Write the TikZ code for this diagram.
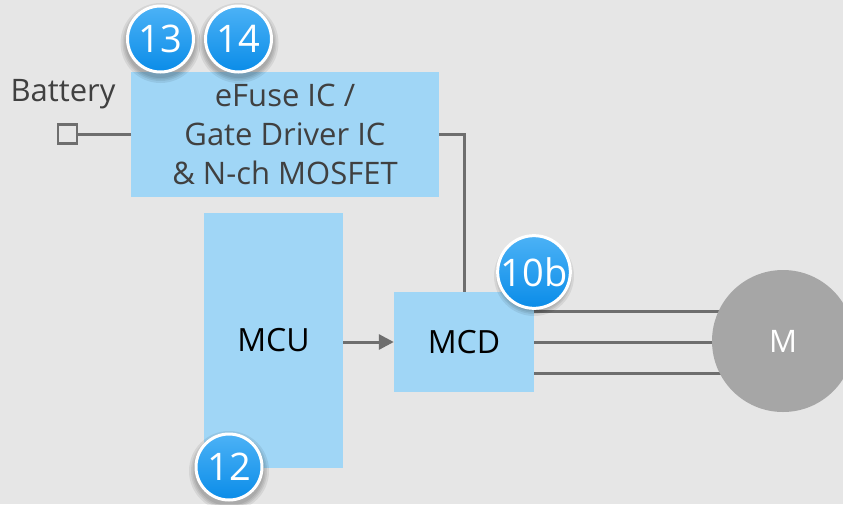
\documentclass[tikz,border=0pt]{standalone}
\usepackage{fontspec}
\setmainfont{Open Sans}
\usetikzlibrary{arrows.meta,calc}
\definecolor{bgray}{HTML}{E6E6E6}
\definecolor{boxblue}{HTML}{A0D6F6}
\definecolor{wire}{HTML}{6E6E6E}
\definecolor{labtxt}{HTML}{404040}
\definecolor{motorgray}{HTML}{A6A6A6}
\definecolor{badgetop}{HTML}{4CB2F6}
\definecolor{badgebot}{HTML}{0A8CE8}
\tikzset{
  block/.style={rectangle, fill=boxblue, inner sep=0pt, align=center},
  wireline/.style={draw=wire, line width=3pt},
  badge/.style={circle, minimum size=66pt, inner sep=0pt, draw=white, line width=3pt,
    top color=badgetop, bottom color=badgebot, text=white,
    font=\fontsize{38}{38}\selectfont},
  badgeshade/.style={fill=black, fill opacity=0.07},
}
% soft shadow below a numbered badge, then the badge itself
\newcommand{\numbadge}[3]{%
  \foreach \r in {40,38,36.5,35} {\fill[badgeshade] ($(#2)+(0,4)$) circle[radius=\r pt];}
  \node[badge] (#1) at (#2) {#3};
}
\begin{document}
\begin{tikzpicture}[x=1pt,y=-1pt]
  \fill[bgray] (0,0) rectangle (843,504);
  \useasboundingbox (0,0) rectangle (843,504);

  % supply path
  \node[block, minimum width=308pt, minimum height=125pt, text=labtxt,
        font=\fontsize{31}{39}\selectfont] (efuse) at (285,134.5)
        {eFuse IC /\\Gate Driver IC\\\& N-ch MOSFET};
  \node[text=labtxt, font=\fontsize{31}{31}\selectfont] (batlabel) at (63,94) {Battery};
  \node[rectangle, draw=wire, line width=2.5pt, fill=bgray, minimum size=19pt, inner sep=0pt] (bat) at (67.5,134) {};
  \draw[wireline] (bat.east) -- (efuse.west |- bat.east);

  % controller and driver
  \node[block, minimum width=139pt, minimum height=255pt, font=\fontsize{32}{32}\selectfont] (mcu) at (273.5,340.5) {MCU};
  \node[block, minimum width=140pt, minimum height=100pt, font=\fontsize{32}{32}\selectfont] (mcd) at (464,342) {MCD};
  \draw[wireline] (efuse.east) -| (mcd.north);
  \draw[wireline, -{Triangle[length=15pt,width=15pt]}] (mcu.east |- mcd.west) -- (mcd.west);

  % three phase lines run into the motor, which is drawn over them
  \coordinate (mc) at (783,341);
  \draw[wireline] ([yshift=-31pt]mcd.east) -- ([yshift=-31pt]mcd.east -| mc);
  \draw[wireline] (mcd.east) -- (mcd.east -| mc);
  \draw[wireline] ([yshift=31pt]mcd.east) -- ([yshift=31pt]mcd.east -| mc);
  \node[circle, fill=motorgray, minimum size=142pt, inner sep=0pt, text=white,
        font=\fontsize{31}{31}\selectfont] (motor) at (mc) {M};

  % numbered badges
  \numbadge{b13}{160.5,39}{13}
  \numbadge{b14}{238.5,39}{14}
  \numbadge{b10b}{534,272}{10b}
  \numbadge{b12}{229,467}{12}
\end{tikzpicture}
\end{document}
